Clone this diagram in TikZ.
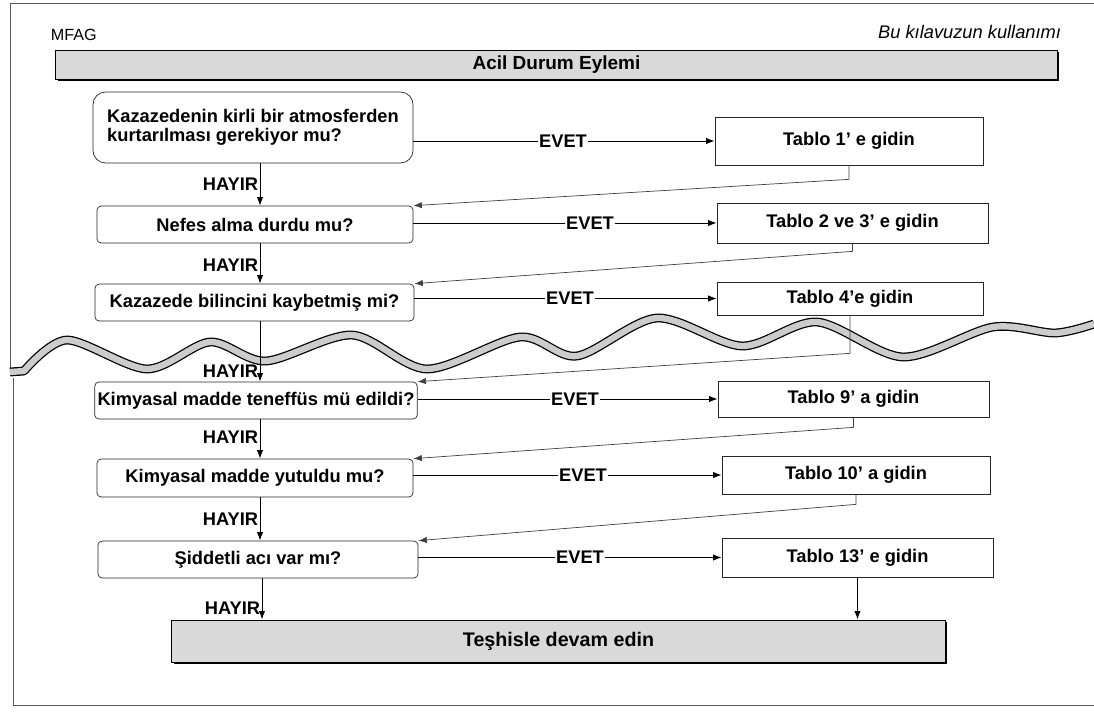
\documentclass[tikz,border=0pt]{standalone}
\usepackage{fontspec}
\setmainfont{Liberation Sans}
\usetikzlibrary{arrows.meta,shadows,calc}
\begin{document}
\begin{tikzpicture}[x=0.025cm,y=-0.025cm,
  q/.style={draw=black!85, line width=0.5pt, rounded corners=3pt, font=\fontsize{13}{13.5}\selectfont\bfseries, inner sep=2pt},
  tb/.style={draw=black!85, line width=0.5pt, font=\fontsize{13}{14}\selectfont\bfseries, inner sep=2pt},
  bar/.style={draw=black, line width=0.7pt, fill=black!15, drop shadow={shadow xshift=1.3pt, shadow yshift=-1.3pt, fill=black, opacity=1}},
  arr/.style={-{Latex[length=6pt,width=4.5pt]}, line width=0.7pt},
  ret/.style={-{Latex[length=6pt,width=4.5pt]}, line width=0.5pt, draw=black!75},
  lbl/.style={font=\fontsize{13}{14}\selectfont\bfseries, inner sep=1pt},
  evet/.style={lbl, inner sep=0.5pt},
  frame/.style={line width=0.6pt, draw=black!65}]
\useasboundingbox (0,0) rectangle (1094,713);

% frame
\draw[frame] (1094,3) -- (10,3) -- (10,368);
\draw[frame] (13,378) -- (13,705) -- (1094,705);

% wavy break
\draw[line width=0.9pt, double=black!20, double distance=4.5pt, line join=round]
  (10,372) -- plot[smooth, tension=0.5] coordinates {(24,371) (67,340) (147,369) (210,342) (266,361) (352,335) (427,369) (520,337) (577,356) (657,318) (742,346) (817,322) (903,357) (993,327) (1055,333) (1094,324)};

% header texts
\node[anchor=west, font=\fontsize{11.5}{12}\selectfont] (mfag) at (46,35) {MFAG};
\node[anchor=east, font=\fontsize{13}{14}\selectfont\itshape] (bu) at (1066,32) {Bu kılavuzun kullanımı};
\node[bar, minimum width=25.025cm, minimum height=0.725cm, font=\fontsize{13.5}{14}\selectfont\bfseries] (hdr) at (556.5,64.5) {Acil Durum Eylemi};

% question boxes
\node[q, rounded corners=9pt, minimum width=8cm, minimum height=1.775cm, align=left] (b1) at (253,127.5) {Kazazedenin kirli bir atmosferden\\kurtarılması gerekiyor mu?};
\node[q, minimum width=7.9cm, minimum height=0.925cm] (b2) at (255,224.5) {Nefes alma durdu mu?};
\node[q, minimum width=7.975cm, minimum height=0.925cm] (b3) at (254.5,302.5) {Kazazede bilincini kaybetmiş mi?};
\node[q, minimum width=7.95cm, minimum height=0.925cm] (b4) at (256,400.5) {Kimyasal madde teneffüs mü edildi?};
\node[q, minimum width=7.9cm, minimum height=0.95cm] (b5) at (255,478) {Kimyasal madde yutuldu mu?};
\node[q, minimum width=8cm, minimum height=0.925cm] (b6) at (258,559.5) {Şiddetli acı var mı?};

% table boxes
\node[tb, minimum width=6.7cm, minimum height=1.2cm] (t1) at (849,141) {Tablo 1' e gidin};
\node[tb, minimum width=6.775cm, minimum height=1.0cm] (t2) at (852.5,223) {Tablo 2 ve 3' e gidin};
\node[tb, minimum width=6.65cm, minimum height=0.825cm] (t4) at (850,298.5) {Tablo 4'e gidin};
\node[tb, minimum width=6.775cm, minimum height=0.9cm] (t9) at (853.5,399) {Tablo 9' a gidin};
\node[tb, minimum width=6.7cm, minimum height=0.95cm] (t10) at (856,475) {Tablo 10' a gidin};
\node[tb, minimum width=6.775cm, minimum height=0.975cm] (t13) at (857.5,557.5) {Tablo 13' e gidin};

% final bar
\node[bar, minimum width=19.325cm, minimum height=1.05cm, font=\fontsize{14}{15}\selectfont\bfseries] (bot) at (558.5,641) {Teşhisle devam edin};

% EVET labels and arrows
\node[evet] (e1) at (563,141) {EVET};
\node[evet] (e2) at (590,223) {EVET};
\node[evet] (e3) at (570,298.5) {EVET};
\node[evet] (e4) at (575,399) {EVET};
\node[evet] (e5) at (583,475) {EVET};
\node[evet] (e6) at (580,557.5) {EVET};
\foreach \b/\e/\t in {b1/e1/t1, b2/e2/t2, b3/e3/t4, b4/e4/t9, b5/e5/t10, b6/e6/t13}{
  \draw[line width=0.6pt] (\b.east |- \e.west) -- (\e.west);
  \draw[arr] (\e.east) -- (\t.west);
}

% HAYIR arrows
\coordinate (hx) at (260,0);
\coordinate (hx2) at (262,0);
\draw[arr] (b1.south -| hx) -- node[lbl, left, pos=0.5] {HAYIR} (b2.north -| hx);
\draw[arr] (b2.south -| hx) -- node[lbl, left, pos=0.55] {HAYIR} (b3.north -| hx);
\draw[arr] (b3.south -| hx) -- node[lbl, left, pos=0.82] {HAYIR} (b4.north -| hx);
\draw[arr] (b4.south -| hx) -- node[lbl, left, pos=0.45] {HAYIR} (b5.north -| hx);
\draw[arr] (b5.south -| hx) -- node[lbl, left, pos=0.5] {HAYIR} (b6.north -| hx);
\draw[arr] (b6.south -| hx2) -- node[lbl, left, pos=0.72] {HAYIR} (bot.north -| hx2);

% return connectors
\draw[ret] (t1.south) -- ++(0,14) -- (b2.north east);
\draw[ret] (t2.south) -- ++(0,8) -- (b3.north east);
\draw[ret] (t4.south) -- ++(0,38) -- (b4.north east);
\draw[ret] (t9.south) -- ++(0,10) -- (b5.north east);
\draw[ret] (t10.south) -- ++(0,10) -- (b6.north east);
\draw[arr] (t13.south) -- (t13.south |- bot.north);
\end{tikzpicture}
\end{document}
